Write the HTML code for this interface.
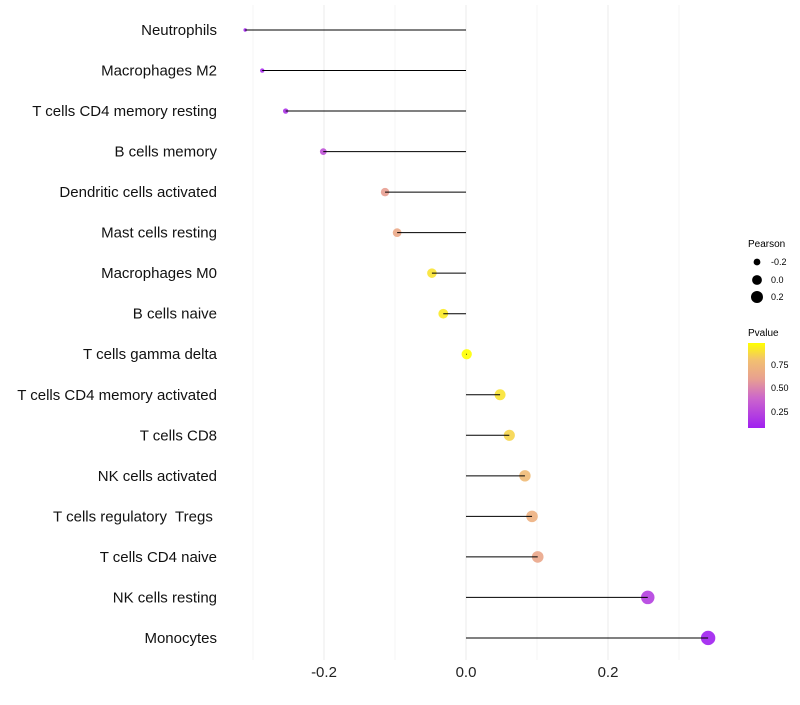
<!DOCTYPE html>
<html><head><meta charset="utf-8"><style>
body{margin:0;background:#fff;font-family:"Liberation Sans",sans-serif}
text{white-space:pre}
</style></head><body>
<svg id="chart" width="800" height="700">
<defs><linearGradient id="pg" x1="0" y1="1" x2="0" y2="0">
<stop offset="0" stop-color="#a020f0"/><stop offset="0.35" stop-color="#cc66cc"/><stop offset="0.58" stop-color="#e8a090"/><stop offset="0.8" stop-color="#f2c070"/><stop offset="1" stop-color="#ffff00"/></linearGradient></defs>
<g id="grid"></g><g id="marks"></g><g id="labels"></g>
<g font-size="9">
<text x="748" y="247" font-size="10">Pearson</text>
<circle cx="757" cy="262" r="3.4" fill="#000"/><text x="771" y="265">-0.2</text>
<circle cx="757" cy="280" r="4.9" fill="#000"/><text x="771" y="283">0.0</text>
<circle cx="757" cy="297" r="6" fill="#000"/><text x="771" y="300">0.2</text>
</g>
<g font-size="9">
<text x="748" y="336" font-size="10">Pvalue</text>
<rect x="748" y="343" width="17" height="85" fill="url(#pg)"/>
<text x="771" y="368">0.75</text><text x="771" y="391">0.50</text><text x="771" y="415">0.25</text>
</g>
</svg>
<script>
const categories=["Neutrophils","Macrophages M2","T cells CD4 memory resting","B cells memory","Dendritic cells activated","Mast cells resting","Macrophages M0","B cells naive","T cells gamma delta","T cells CD4 memory activated","T cells CD8","NK cells activated","T cells regulatory  Tregs ","T cells CD4 naive","NK cells resting","Monocytes"];
const pearson=[-0.311,-0.287,-0.254,-0.201,-0.114,-0.097,-0.048,-0.032,0.001,0.048,0.061,0.083,0.093,0.101,0.256,0.341];
const pvalues=[0.1,0.12,0.16,0.3,0.6,0.66,0.9,0.92,1.0,0.9,0.86,0.76,0.7,0.64,0.22,0.08];
const xTicks=[-0.2,0.0,0.2];
const minorTicks=[-0.3,-0.1,0.1,0.3];
const NS="http://www.w3.org/2000/svg";
const xs=v=>466+v*710;
const ys=i=>30+i*40.53;
function el(t,a,p){const e=document.createElementNS(NS,t);for(const k in a)e.setAttribute(k,a[k]);document.getElementById(p).appendChild(e);return e;}
function lerp(a,b,t){return a.map((v,i)=>Math.round(v+(b[i]-v)*t));}
const stops=[[0,[160,32,240]],[0.35,[204,102,204]],[0.58,[232,160,144]],[0.8,[242,192,112]],[1,[255,255,0]]];
function col(p){const t=Math.max(0,Math.min(1,(p-0.08)/0.9));for(let i=1;i<stops.length;i++){if(t<=stops[i][0]){const c=lerp(stops[i-1][1],stops[i][1],(t-stops[i-1][0])/(stops[i][0]-stops[i-1][0]));return `rgb(${c})`;}}return "rgb(255,255,0)";}
minorTicks.forEach(v=>{const l=el('line',{x1:xs(v),x2:xs(v),y1:5,y2:660,stroke:'#f4f4f4','stroke-width':1},'grid');});
xTicks.forEach(v=>{const l=el('line',{x1:xs(v),x2:xs(v),y1:5,y2:660,stroke:'#ebebeb','stroke-width':1},'grid');
const t=el('text',{x:xs(v),y:677,'text-anchor':'middle','font-size':15,fill:'#222'},'labels');t.textContent=v.toFixed(1);});
categories.forEach((c,i)=>{const y=ys(i);
const t=el('text',{x:217,y:y+5,'text-anchor':'end','font-size':15,fill:'#111'},'labels');t.textContent=c;
const r=Math.sqrt(3+75*(pearson[i]+0.311));
const d=el('circle',{cx:xs(pearson[i]),cy:y,r:r,fill:col(pvalues[i]),'fill-opacity':0.9},'marks');
const l=el('line',{x1:xs(0),x2:xs(pearson[i]),y1:y,y2:y,stroke:'#000','stroke-width':1},'marks');
});
</script>
</body></html>
